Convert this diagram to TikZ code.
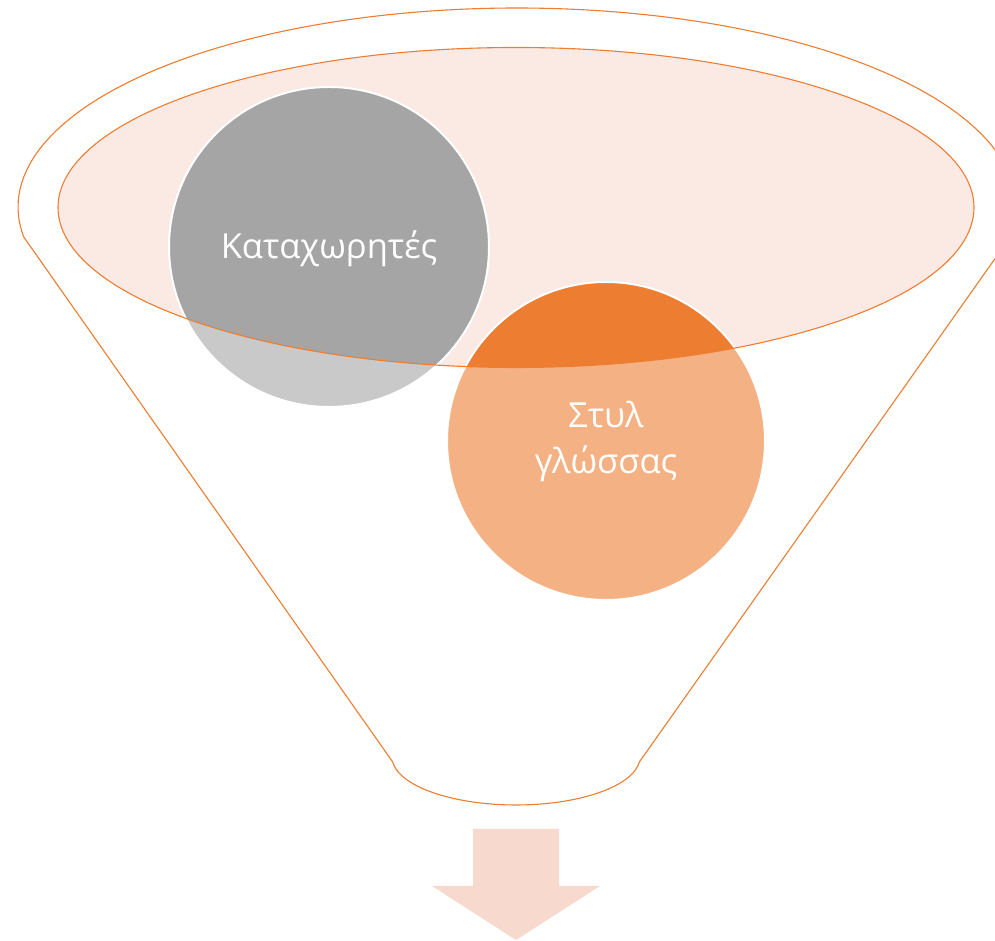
\documentclass[tikz,border=0pt]{standalone}
\usepackage{fontspec}
\setmainfont{Open Sans}
\definecolor{funnelorange}{HTML}{ED7D31}
\definecolor{funnelpink}{HTML}{FBE9E4}
\definecolor{circgray}{HTML}{A5A5A5}
\definecolor{arrowpink}{HTML}{F8D9CE}
\tikzset{
  circbox/.style={circle, draw=white, line width=2pt, minimum size=#1, inner sep=0pt},
  lbl/.style={text=white, font=\fontsize{34.5}{46}\selectfont, align=center},
  outl/.style={draw=funnelorange, line width=1.1pt}
}
\begin{document}
\begin{tikzpicture}[x=1pt,y=1pt]
\clip (0,0) rectangle (995,941);
\useasboundingbox (0,0) rectangle (995,941);
% funnel body
\path[fill=white] (1010.3,704) arc[start angle=-8.67, end angle=188.67, x radius=499, y radius=199]
  -- (392.7,179) arc[start angle=186, end angle=354, x radius=124, y radius=48] -- cycle;
% inner ellipse fill
\path[fill=funnelpink] (516,733.5) ellipse[x radius=458, y radius=160];
% circles
\node[circbox=320pt, fill=circgray] (reg) at (329,694) {};
\node[circbox=318pt, fill=funnelorange] (sty) at (606,500) {};
% lightening of parts outside the ellipse
\path[fill=white, fill opacity=0.4, even odd rule] (0,0) rectangle (995,941) (516,733.5) ellipse[x radius=458, y radius=160];
% outlines
\path[outl] (516,733.5) ellipse[x radius=458, y radius=160];
\path[outl] (1010.3,704) arc[start angle=-8.67, end angle=188.67, x radius=499, y radius=199]
  -- (392.7,179) arc[start angle=186, end angle=354, x radius=124, y radius=48] -- cycle;
% labels
\node[lbl] (regt) at ([yshift=-2pt]reg.center) {Καταχωρητές};
\node[lbl] (styt) at (sty.center) {Στυλ\\γλώσσας};
% arrow
\path[fill=arrowpink] (473,112) -- (559,112) -- (559,55) -- (600,55) -- (516,1) -- (432,55) -- (473,55) -- cycle;
\end{tikzpicture}
\end{document}
